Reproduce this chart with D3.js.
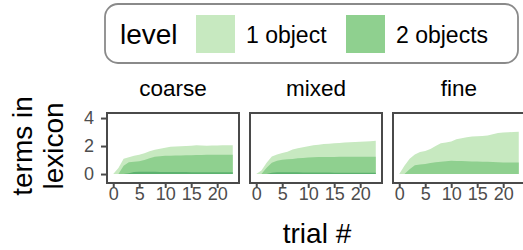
<!DOCTYPE html>
<html>
<head>
<meta charset="utf-8">
<script src="https://cdn.jsdelivr.net/npm/d3@7"></script>
<style>
  body { margin: 0; background: #fff; }
  text { font-family: "Liberation Sans", Arial, Helvetica, sans-serif; }
</style>
</head>
<body>
<script>
// data
var trials = d3.range(0, 24);
var facets = ['coarse', 'mixed', 'fine'];
var levels = ['1 object', '2 objects'];
var yTicks = [0, 2, 4],
    xTicks = [0, 5, 10, 15, 20];

var coarse1 = [0, 0.44, 1.1, 1.2, 1.3, 1.38, 1.48, 1.62, 1.74, 1.8, 1.88, 1.95, 1.97, 1.98, 2.0, 2.02, 2.05, 2.03, 2.02, 2.03, 2.04, 2.05, 2.06, 2.06];
var coarse2 = [0, 0, 0.6, 0.85, 0.88, 0.92, 1.0, 1.12, 1.24, 1.27, 1.3, 1.31, 1.32, 1.33, 1.34, 1.35, 1.36, 1.36, 1.37, 1.37, 1.38, 1.38, 1.38, 1.38];
var coarse3 = [0, 0, 0, 0.05, 0.15, 0.17, 0.17, 0.16, 0.16, 0.15, 0.15, 0.15, 0.14, 0.14, 0.14, 0.13, 0.13, 0.13, 0.13, 0.12, 0.12, 0.12, 0.12, 0.12];

var mixed1 = [0, 0.25, 0.8, 1.25, 1.4, 1.5, 1.6, 1.75, 1.85, 1.92, 1.98, 2.05, 2.1, 2.14, 2.17, 2.2, 2.22, 2.25, 2.27, 2.28, 2.3, 2.33, 2.35, 2.37];
var mixed2 = [0, 0, 0.45, 0.8, 0.95, 1.02, 1.05, 1.08, 1.12, 1.15, 1.19, 1.2, 1.21, 1.21, 1.22, 1.22, 1.23, 1.23, 1.23, 1.24, 1.24, 1.24, 1.24, 1.24];
var mixed3 = [0, 0, 0, 0.1, 0.12, 0.12, 0.12, 0.12, 0.12, 0.11, 0.11, 0.11, 0.11, 0.11, 0.11, 0.1, 0.1, 0.1, 0.1, 0.1, 0.1, 0.1, 0.1, 0.1];

var fine1 = [0, 0.6, 1.1, 1.4, 1.58, 1.65, 1.78, 2.0, 2.2, 2.25, 2.32, 2.48, 2.55, 2.62, 2.68, 2.7, 2.72, 2.75, 2.85, 2.93, 2.96, 2.98, 3.0, 3.02];
var fine2 = [0, 0, 0.35, 0.62, 0.68, 0.72, 0.78, 0.85, 0.88, 0.92, 0.95, 0.94, 0.93, 0.92, 0.9, 0.9, 0.88, 0.87, 0.86, 0.84, 0.83, 0.83, 0.83, 0.83];
var fine3 = [0, 0, 0, 0.01, 0.01, 0.01, 0.01, 0.01, 0.01, 0.01, 0.01, 0.01, 0.01, 0.01, 0.01, 0.01, 0.01, 0.01, 0.01, 0.01, 0.01, 0.01, 0.01, 0.01];

var series = {
  coarse: [coarse1, coarse2, coarse3],
  mixed: [mixed1, mixed2, mixed3],
  fine: [fine1, fine2, fine3]
};
var fills = ['#c7e9c0', '#8fd08f', '#5cb16f'];

var w = 523, h = 250,
    panelW = 132, panelH = 70,
    panelTop = 113, panelX = [107, 250, 393];

var svg = d3.select('body')
  .append('svg')
  .attr('width', w)
  .attr('height', h);

var x = d3.scaleLinear().domain([-1.2, 24.2]).range([0, panelW]);
var y = d3.scaleLinear().domain([-0.64, 4.36]).range([panelH, 0]);

var area = d3.area()
  .x(function(d, i){ return x(trials[i]); })
  .y0(y(0))
  .y1(function(d){ return y(d); });

// legend
var leg = svg.append('g');
leg.append('rect')
  .attr('x', 105).attr('y', 4)
  .attr('width', 413).attr('height', 59)
  .attr('rx', 13)
  .attr('fill', '#fff')
  .attr('stroke', '#8a8a8a')
  .attr('stroke-width', 1.8);
leg.append('text')
  .attr('x', 120).attr('y', 44)
  .attr('font-size', 28)
  .text('level');
var legX = [196, 346];
levels.forEach(function(l, i){
  leg.append('rect')
    .attr('x', legX[i]).attr('y', 15)
    .attr('width', 39).attr('height', 38)
    .attr('fill', fills[i]);
  leg.append('text')
    .attr('x', legX[i] + 50).attr('y', 43)
    .attr('font-size', 23)
    .text(l);
});

// panels
facets.forEach(function(f, k){
  var g = svg.append('g')
    .attr('transform', 'translate(' + panelX[k] + ',' + panelTop + ')');

  g.append('text')
    .attr('x', panelW / 2).attr('y', -17)
    .attr('text-anchor', 'middle')
    .attr('font-size', 22.5)
    .text(f);

  g.selectAll('path.area')
    .data(series[f])
    .enter()
    .append('path')
    .classed('area', true)
    .attr('d', area)
    .attr('fill', function(d, i){ return fills[i]; });

  g.append('rect')
    .attr('width', panelW).attr('height', panelH)
    .attr('fill', 'none')
    .attr('stroke', '#4a4a4a')
    .attr('stroke-width', 2);

  var xa = g.append('g')
    .attr('transform', 'translate(0,' + panelH + ')')
    .call(d3.axisBottom(x).tickValues(xTicks).tickSize(5).tickPadding(0));
  xa.select('.domain').remove();
  xa.selectAll('line').attr('stroke', '#4a4a4a').attr('stroke-width', 2);
  xa.selectAll('text')
    .attr('font-size', 18)
    .attr('fill', '#4d4d4d')
    .attr('y', 4);

  if (k === 0) {
    var ya = g.append('g')
      .call(d3.axisLeft(y).tickValues(yTicks).tickFormat(d3.format('d'))
        .tickSize(6).tickPadding(7));
    ya.select('.domain').remove();
    ya.selectAll('line').attr('stroke', '#4a4a4a').attr('stroke-width', 2);
    ya.selectAll('text')
      .attr('font-size', 18)
      .attr('fill', '#4d4d4d');
  }
});

// axis titles
svg.append('text')
  .attr('transform', 'translate(32,146) rotate(-90)')
  .attr('text-anchor', 'middle')
  .attr('font-size', 28)
  .text('terms in');
svg.append('text')
  .attr('transform', 'translate(63,146) rotate(-90)')
  .attr('text-anchor', 'middle')
  .attr('font-size', 28)
  .text('lexicon');
svg.append('text')
  .attr('x', 317).attr('y', 243)
  .attr('text-anchor', 'middle')
  .attr('font-size', 28)
  .text('trial #');
</script>
</body>
</html>
